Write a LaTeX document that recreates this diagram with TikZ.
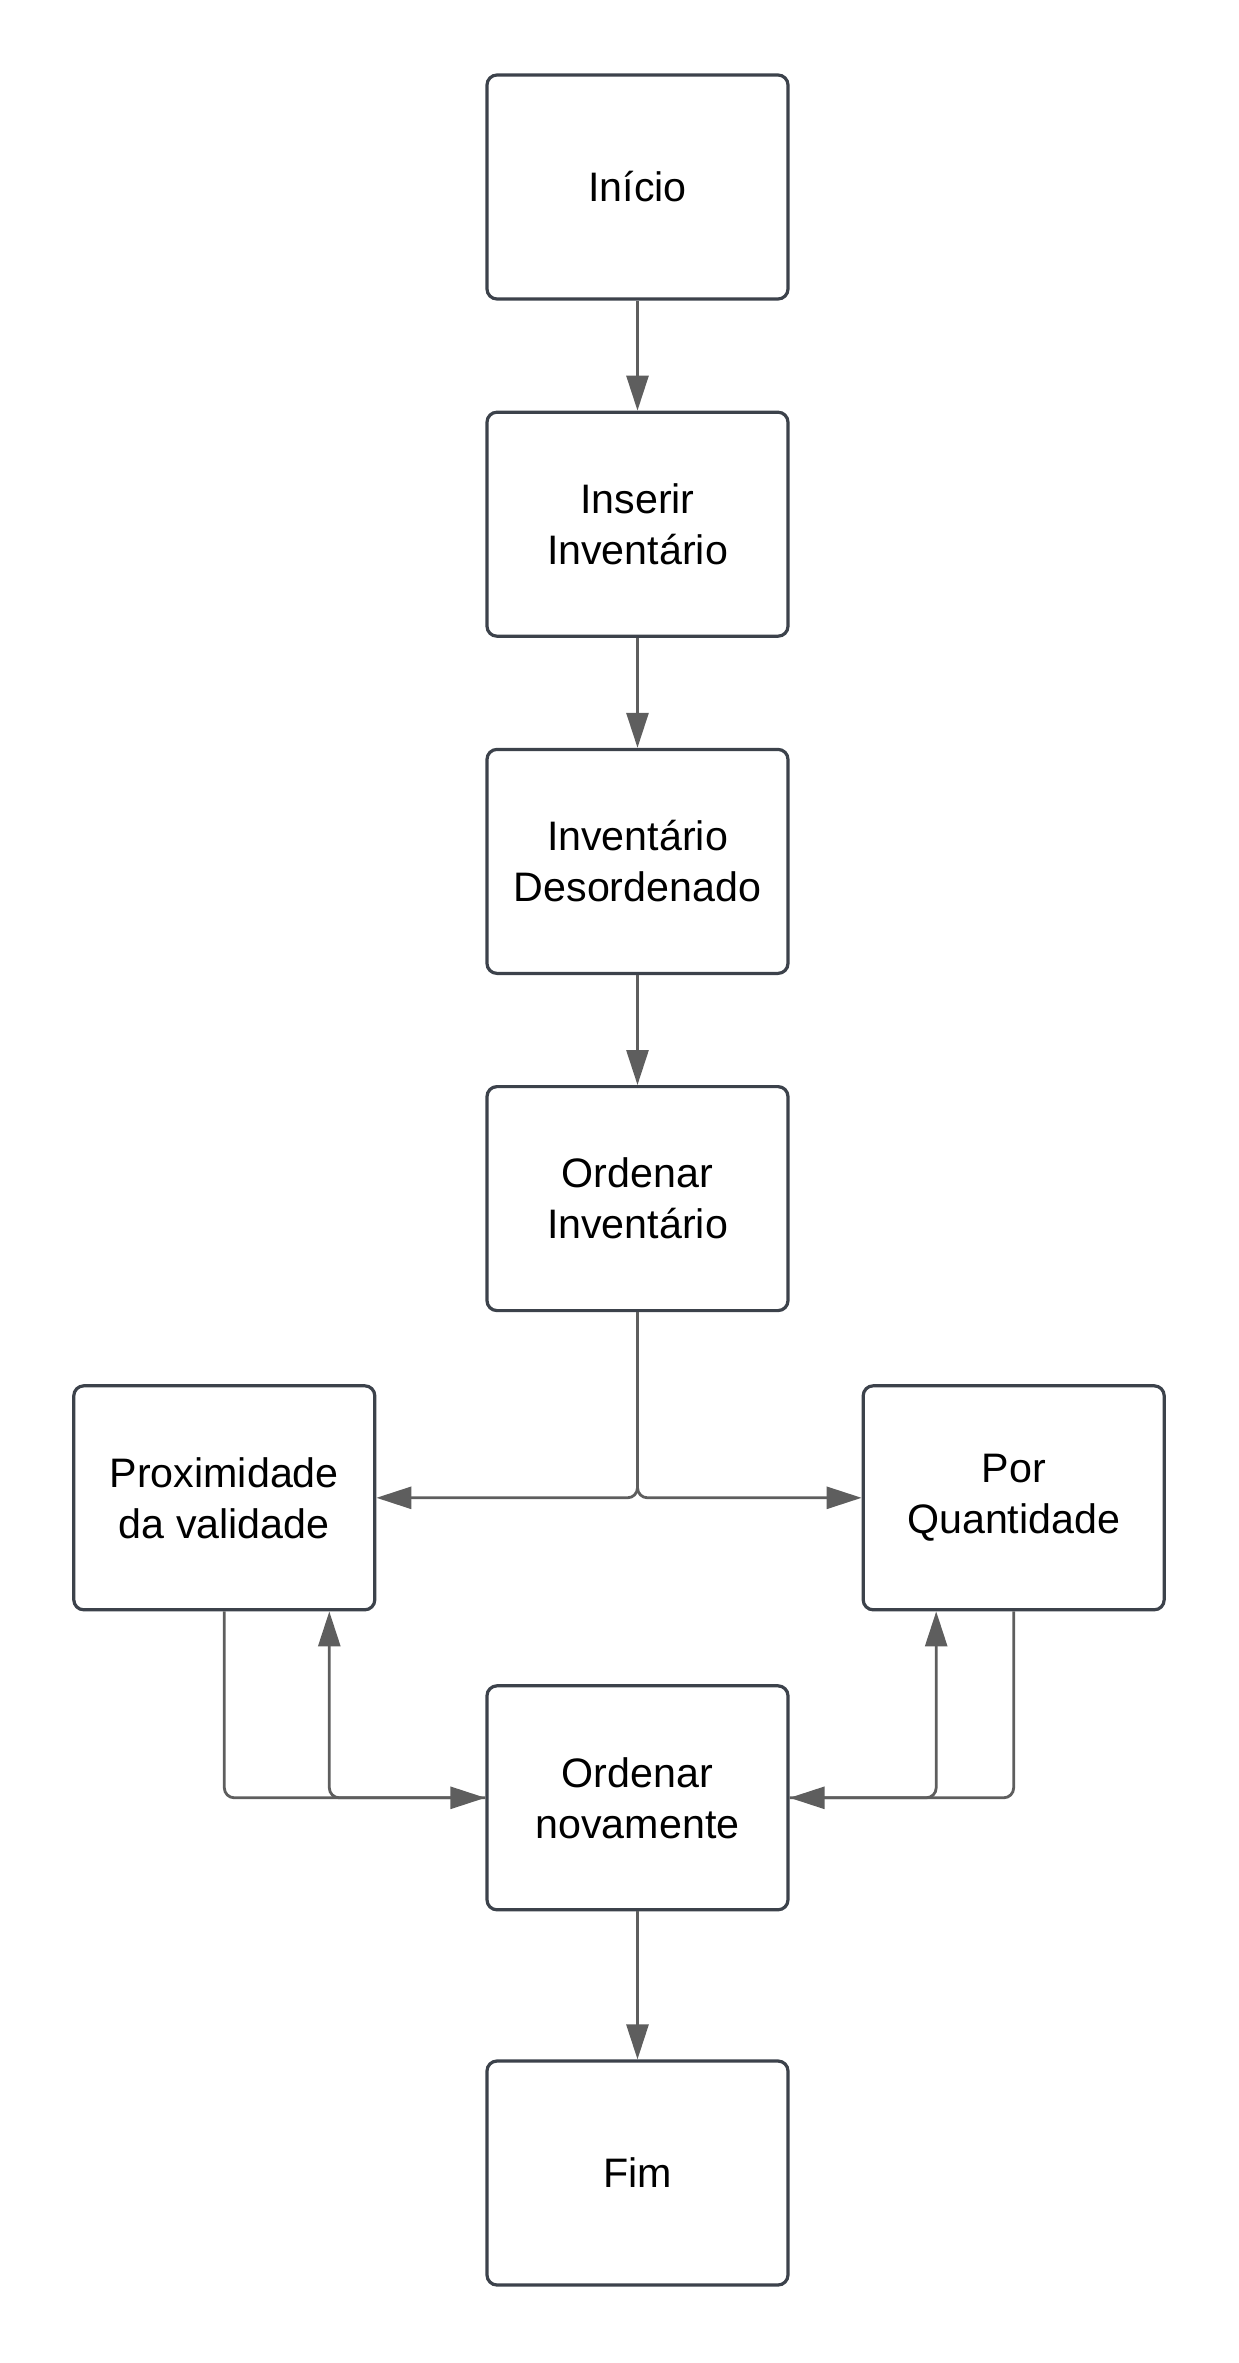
\documentclass[tikz,border=0pt]{standalone}
\usepackage{fontspec}
\setmainfont{Liberation Sans}
\usepackage{tikz}
\usetikzlibrary{arrows.meta, positioning}
\definecolor{borda}{HTML}{3C424B}
\definecolor{linha}{HTML}{5E5E5E}

\begin{document}
\begin{tikzpicture}[
    node distance = 55pt,
    font          = \fontsize{20.6}{25.5}\selectfont,
    caixa/.style  = {draw=borda, line width=1.6pt, rounded corners=5pt,
                     minimum width=150.5pt, minimum height=112pt,
                     align=center, fill=white},
    seta/.style   = {-{Triangle[length=17.5pt, width=11pt]}, linha,
                     line width=1.4pt, rounded corners=5pt},
  ]
  \node[caixa] (inicio) {Início};
  \node[caixa, below=of inicio] (inserir) {Inserir\\Inventário};
  \node[caixa, below=of inserir] (desord) {Inventário\\Desordenado};
  \node[caixa, below=of desord] (ordenar) {Ordenar\\Inventário};
  \node[caixa, below left=36pt and 54.5pt of ordenar] (prox) {Proximidade\\da validade};
  \node[caixa, below right=36pt and 36pt of ordenar] (quant) {Por\\Quantidade};
  \node[caixa, below=186pt of ordenar] (novamente) {Ordenar\\novamente};
  \node[caixa, below=74pt of novamente] (fim) {Fim};
  \useasboundingbox ([xshift=-318.75pt, yshift=93.5pt]inicio.center)
    rectangle ([xshift=300.25pt, yshift=-1088pt]inicio.center);
  \draw[seta] (inicio) -- (inserir);
  \draw[seta] (inserir) -- (desord);
  \draw[seta] (desord) -- (ordenar);
  \draw[seta] (ordenar.south) |- (prox.east);
  \draw[seta] (ordenar.south) |- (quant.west);
  \draw[seta] (prox.south) |- (novamente.west);
  \draw[seta] (novamente.west) -| ([xshift=52.5pt]prox.south);
  \draw[seta] (quant.south) |- (novamente.east);
  \draw[seta] (novamente.east) -| ([xshift=-38.75pt]quant.south);
  \draw[seta] (novamente) -- (fim);
\end{tikzpicture}
\end{document}
